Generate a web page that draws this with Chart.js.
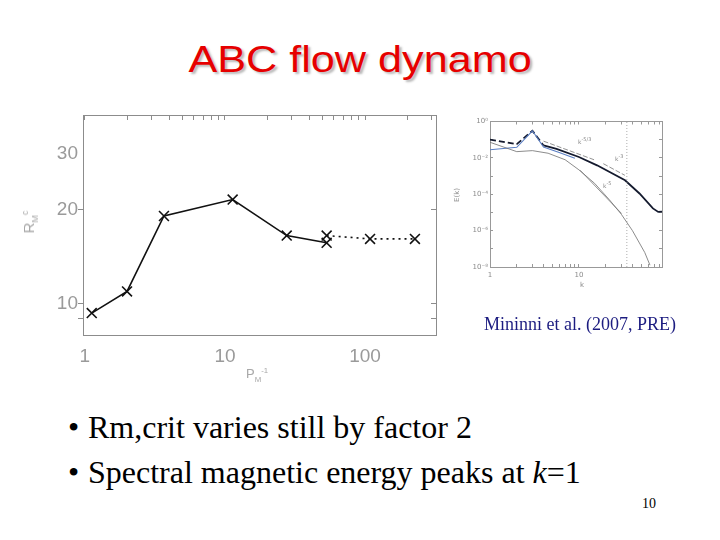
<!DOCTYPE html>
<html>
<head>
<meta charset="utf-8">
<script src="https://cdn.jsdelivr.net/npm/chart.js@4.4.1/dist/chart.umd.min.js"></script>
<style>
  body { margin: 0; background: #fff; }
  #slide { position: relative; width: 720px; height: 540px; overflow: hidden; }
  canvas { position: absolute; }
  .title { position: absolute; left: 0; top: 39px; width: 720px; text-align: center; line-height: 36px; }
  .title span { display: inline-block; font: 36px "Liberation Sans", sans-serif; color: #e60000;
    text-shadow: 2px 2px 2px #b8b8b8; transform: scaleX(1.2); }
  .serif { position: absolute; font-family: "Liberation Serif", serif; white-space: nowrap; }
  .bullet { font-size: 32px; line-height: 32px; color: #000; }
  .cite { font-size: 18px; line-height: 18px; color: #1c1c80; }
  .axlab { position: absolute; font-family: "Liberation Sans", sans-serif; color: #a8a8a8; white-space: nowrap; }
  .axlab sub, .axlab sup { font-size: 60%; }
  .tiny { position: absolute; font-family: "DejaVu Sans", sans-serif; font-size: 7px; color: #8a8a8a; white-space: nowrap; }
</style>
</head>
<body>
<div id="slide">
  <div class="title"><span>ABC flow dynamo</span></div>

  <canvas id="mainChart" width="460" height="300" style="left:0;top:90px"></canvas>
  <canvas id="specChart" width="240" height="190" style="left:440px;top:110px"></canvas>

  <div class="axlab" style="left:246px;top:366px;font-size:13px">P<sub>M</sub><sup>-1</sup></div>
  <div class="axlab" style="left:30px;top:222px;font-size:15px;transform:translate(-50%,-50%) rotate(-90deg)">R<sub>M</sub><sup>c</sup></div>

  <div class="tiny" style="left:457px;top:195px;transform:translate(-50%,-50%) rotate(-90deg)">E(k)</div>
  <div class="tiny" style="left:580px;top:281px">k</div>
  <div class="tiny" style="left:578px;top:136px;font-size:6px">k<sup>-5/3</sup></div>
  <div class="tiny" style="left:615px;top:153px;font-size:6px">k<sup>-3</sup></div>
  <div class="tiny" style="left:603px;top:180px;font-size:6px">k<sup>-5</sup></div>

  <div class="serif cite" style="left:484px;top:315px">Mininni et al. (2007, PRE)</div>

  <div class="serif bullet" style="left:68px;top:411px">•</div>
  <div class="serif bullet" style="left:88px;top:411px">Rm,crit varies still by factor 2</div>
  <div class="serif bullet" style="left:68px;top:456px">•</div>
  <div class="serif bullet" style="left:88px;top:456px">Spectral magnetic energy peaks at <i>k</i>=1</div>

  <div class="serif" style="left:642px;top:497px;font-size:14px;line-height:14px">10</div>
</div>

<script>
// critical Rm against 1/Pm
const pmInv = [1.12, 2.0, 3.67, 11.35, 27.6, 53.2];
const rmCrit = [9.34, 10.95, 19.05, 21.5, 16.5, 15.65];
const pmInvExt = [53.2, 108.6, 227];
const rmCritExt = [16.5, 16.1, 16.1];

const xTicks = [1, 2, 3, 4, 5, 6, 7, 8, 9, 10, 20, 30, 40, 50, 60, 70, 80, 90, 100, 200, 300];
const xLabelled = [1, 10, 100];
const yTicks = [9, 10, 20, 30];
const yLabelled = [10, 20, 30];

// inset: energy spectra E(k)
const kMag = [1, 2, 3, 4, 5.6, 10, 16, 33, 48, 68, 78, 86];
const eMag = [0.1, 0.057, 0.31, 0.048, 0.0316, 0.0112, 0.0039, 5.9e-4, 1.1e-4, 1.66e-5, 1.07e-5, 1.1e-5];
const kBlue = [1, 2, 3, 4, 6, 9];
const eBlue = [0.028, 0.038, 0.31, 0.039, 0.02, 0.0095];
const kKin = [1, 2, 3, 4.5, 7, 10, 15, 22, 30, 40, 55, 63];
const eKin = [0.072, 0.022, 0.025, 0.018, 0.0079, 0.0022, 4e-4, 5e-5, 7.9e-6, 1e-6, 6.3e-8, 1.26e-8];
const kFit53 = [4, 14.8];
const eFit53 = [0.083, 0.0079];
const kFit3 = [18.8, 32.9];
const eFit3 = [0.0048, 0.0011];
const kFit5 = [10.3, 30.2];
const eFit5 = [0.0021, 8.7e-6];
const kCut = [34.6, 34.6];
const eCut = [1e-8, 1];

const kTicks = [1, 2, 3, 4, 5, 6, 7, 8, 9, 10, 20, 30, 40, 50, 60, 70, 80];
const kLabelled = [1, 10];
const eTicks = [1e-8, 1e-7, 1e-6, 1e-5, 1e-4, 1e-3, 1e-2, 1e-1, 1];
const eLabels = ['10⁻⁸', '10⁻⁶', '10⁻⁴', '10⁻²', '10⁰'];

const pts = (xs, ys) => xs.map((x, i) => ({ x: x, y: ys[i] }));
const setTicks = (vals) => (scale) => { scale.ticks = vals.map((v) => ({ value: v })); };

const boxGray = '#8c8c8c';
const labelGray = '#9a9a9a';

new Chart(document.getElementById('mainChart'), {
  type: 'line',
  data: {
    datasets: [
      {
        data: pts(pmInv, rmCrit),
        borderColor: '#111', borderWidth: 1.6,
        pointStyle: 'crossRot', pointRadius: 7, pointBorderWidth: 1.6, pointBorderColor: '#111'
      },
      {
        data: pts(pmInvExt, rmCritExt),
        borderColor: '#111', borderWidth: 1.6, borderDash: [2, 4],
        pointStyle: 'crossRot', pointRadius: 7, pointBorderWidth: 1.6, pointBorderColor: '#111'
      }
    ]
  },
  options: {
    responsive: false,
    animation: false,
    devicePixelRatio: 1,
    layout: { padding: { left: 43, right: 24, top: 25, bottom: 15 } },
    plugins: { legend: { display: false }, tooltip: { enabled: false } },
    scales: {
      x: {
        type: 'logarithmic', position: 'bottom', min: 0.97, max: 321,
        afterBuildTicks: setTicks(xTicks),
        afterFit: (s) => { s.height = 40; },
        grid: { drawOnChartArea: false, tickLength: 0, color: boxGray },
        border: { color: boxGray },
        ticks: {
          autoSkip: false, maxRotation: 0, padding: 10, color: labelGray,
          font: { family: 'Liberation Sans', size: 19 },
          callback: (v) => (xLabelled.includes(v) ? String(v) : '')
        }
      },
      x2: {
        type: 'logarithmic', position: 'top', min: 0.97, max: 321,
        afterBuildTicks: setTicks(xTicks),
        afterFit: (s) => { s.height = 0; },
        grid: { drawOnChartArea: false, tickLength: -5, color: boxGray },
        border: { color: boxGray },
        ticks: { display: false }
      },
      y: {
        type: 'logarithmic', position: 'left', min: 7.95, max: 40,
        afterBuildTicks: setTicks(yTicks),
        afterFit: (s) => { s.width = 40; },
        grid: {
          drawOnChartArea: false, tickLength: 5,
          color: (ctx) => (ctx.tick && ctx.tick.value === 30 ? 'rgba(0,0,0,0)' : boxGray)
        },
        border: { color: boxGray },
        ticks: {
          autoSkip: false, padding: 0, color: labelGray,
          font: { family: 'Liberation Sans', size: 19 },
          callback: (v) => (yLabelled.includes(v) ? String(v) : '')
        }
      },
      y2: {
        type: 'logarithmic', position: 'right', min: 7.95, max: 40,
        afterBuildTicks: setTicks(yTicks),
        afterFit: (s) => { s.width = 0; },
        grid: {
          drawOnChartArea: false, tickLength: -5,
          color: (ctx) => (ctx.tick && ctx.tick.value === 30 ? 'rgba(0,0,0,0)' : boxGray)
        },
        border: { color: boxGray },
        ticks: { display: false }
      }
    }
  }
});

const thin = { pointRadius: 0, fill: false, borderWidth: 0.8 };

new Chart(document.getElementById('specChart'), {
  type: 'line',
  data: {
    datasets: [
      Object.assign({ data: pts(kKin, eKin), borderColor: '#6e6e6e' }, thin),
      Object.assign({ data: pts(kFit53, eFit53), borderColor: '#777', borderDash: [5, 2] }, thin),
      Object.assign({ data: pts(kFit3, eFit3), borderColor: '#777', borderDash: [5, 2] }, thin),
      Object.assign({ data: pts(kFit5, eFit5), borderColor: '#777' }, thin),
      Object.assign({ data: pts(kCut, eCut), borderColor: '#999', borderDash: [1, 2] }, thin),
      Object.assign({ data: pts(kBlue, eBlue), borderColor: '#5b7fc4' }, thin, { borderWidth: 1.1 }),
      {
        data: pts(kMag, eMag), borderColor: '#141a2e', borderWidth: 1.8, pointRadius: 0, fill: false,
        segment: { borderDash: (ctx) => (ctx.p0.parsed.x < 4 ? [6, 3] : undefined) }
      }
    ]
  },
  options: {
    responsive: false,
    animation: false,
    devicePixelRatio: 1,
    layout: { padding: { left: 30, right: 18, top: 11.5, bottom: 13 } },
    plugins: { legend: { display: false }, tooltip: { enabled: false } },
    scales: {
      x: {
        type: 'logarithmic', position: 'bottom', min: 1, max: 86,
        afterBuildTicks: setTicks(kTicks),
        afterFit: (s) => { s.height = 20; },
        grid: { drawOnChartArea: false, tickLength: -3, color: '#999' },
        border: { color: '#999' },
        ticks: {
          autoSkip: false, maxRotation: 0, padding: 7, color: '#8a8a8a',
          font: { family: 'DejaVu Sans', size: 7 },
          callback: (v) => (kLabelled.includes(v) ? String(v) : '')
        }
      },
      x2: {
        type: 'logarithmic', position: 'top', min: 1, max: 86,
        afterBuildTicks: setTicks(kTicks),
        afterFit: (s) => { s.height = 0; },
        grid: { drawOnChartArea: false, tickLength: -3, color: '#999' },
        border: { color: '#999' },
        ticks: { display: false }
      },
      y: {
        type: 'logarithmic', position: 'left', min: 1e-8, max: 1,
        afterBuildTicks: setTicks(eTicks),
        afterFit: (s) => { s.width = 20; },
        grid: { drawOnChartArea: false, tickLength: -3, color: '#999' },
        border: { color: '#999' },
        ticks: {
          autoSkip: false, padding: 5, color: '#8a8a8a',
          font: { family: 'DejaVu Sans', size: 7 },
          callback: (v) => {
            const e = Math.round(Math.log10(v));
            return e % 2 === 0 ? eLabels[(e + 8) / 2] : '';
          }
        }
      },
      y2: {
        type: 'logarithmic', position: 'right', min: 1e-8, max: 1,
        afterBuildTicks: setTicks(eTicks),
        afterFit: (s) => { s.width = 0; },
        grid: { drawOnChartArea: false, tickLength: -3, color: '#999' },
        border: { color: '#999' },
        ticks: { display: false }
      }
    }
  }
});
</script>
</body>
</html>
